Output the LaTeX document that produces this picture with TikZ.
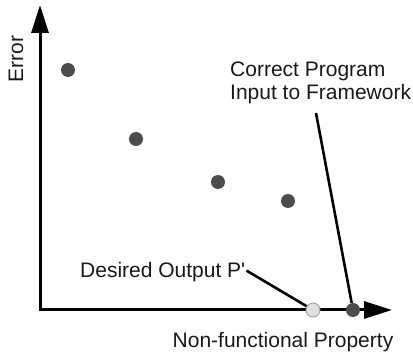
\documentclass[tikz,border=0pt]{standalone}
\usepackage{fontspec}
\newfontfamily\labelfont{Liberation Sans}
\usetikzlibrary{arrows.meta}
\begin{document}
\begin{tikzpicture}[x=1pt,y=-1pt,
  axis/.style={line width=3pt,-{Triangle[length=28pt,width=17pt]}},
  leader/.style={line width=2.6pt},
  dot/.style={circle,fill=black!70,inner sep=0pt,minimum size=14pt},
  lightdot/.style={circle,fill=black!12,draw=black!40,line width=0.8pt,inner sep=0pt,minimum size=14pt},
  lbl/.style={font=\labelfont\fontsize{21}{24}\selectfont,inner sep=0pt,text=black!90}]
\useasboundingbox (0,0) rectangle (413,358);
% axes
\coordinate (origin) at (40,310);
\coordinate (ytip) at (40,5);
\coordinate (xtip) at (392,310);
\draw[axis] (origin) -- (ytip);
\draw[axis] ([xshift=-1.5pt]origin) -- (xtip);
% data points
\node[dot] (p1) at (68,70) {};
\node[dot] (p2) at (136,139) {};
\node[dot] (p3) at (218,182) {};
\node[dot] (p4) at (288,201) {};
\node[lightdot] (desired) at (313,310) {};
\node[dot] (correct) at (353,310) {};
% labels
\node[lbl,rotate=90] (ylab) at (16,59) {Error};
\node[lbl,anchor=base] (xlab) at (283,348) {Non-functional Property};
\node[lbl,anchor=base west] (dlab) at (80,278) {Desired Output P'};
\node[lbl,anchor=base west] (clab1) at (230,77) {Correct Program};
\node[lbl,anchor=base west] (clab2) at (230,100) {Input to Framework};
% leader lines
\coordinate (dtail) at ([xshift=1pt,yshift=2pt]dlab.east);
\coordinate (ctail) at (316,113);
\draw[leader] (dtail) -- (desired);
\draw[leader] (ctail) -- (correct);
\end{tikzpicture}
\end{document}
